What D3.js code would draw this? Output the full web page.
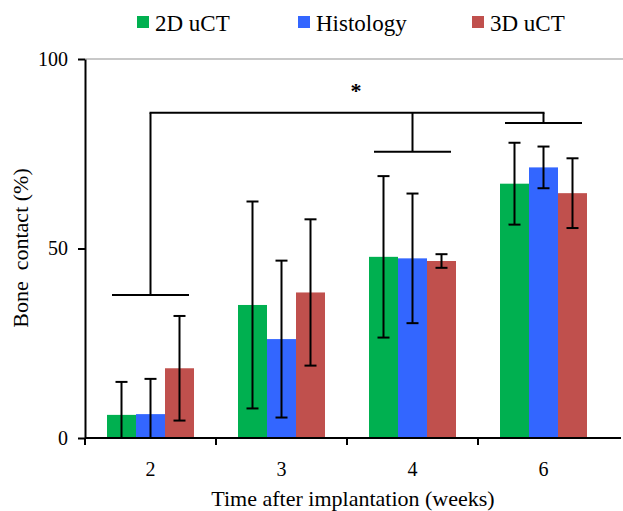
<!DOCTYPE html>
<html>
<head>
<meta charset="utf-8">
<script src="https://cdn.jsdelivr.net/npm/d3@7"></script>
<style>
  html, body { margin: 0; padding: 0; background: #fff; }
  svg { display: block; font-family: "Liberation Serif", "Times New Roman", serif; }
</style>
</head>
<body>
<svg id="chart" width="623" height="511"></svg>
<script>
// ---- data ----
const categories = ["2", "3", "4", "6"];
const seriesNames = ["2D uCT", "Histology", "3D uCT"];
const mean2D   = [6.1, 35.1, 47.8, 67.1];
const meanHist = [6.3, 26.1, 47.4, 71.4];
const mean3D   = [18.4, 38.4, 46.7, 64.6];
const sd2D     = [8.7, 27.3, 21.3, 10.8];
const sdHist   = [9.3, 20.7, 17.1, 5.5];
const sd3D     = [13.8, 19.3, 1.8, 9.2];
const yTicks   = [0, 50, 100];
// significance annotation
const bracketGroups = ["2", "4", "6"];
const bracketLevels = [37.7, 75.5, 83.1];
const bracketTop = 85.8;
const starLevel = 92;

const colors = ["#00b050", "#3366ff", "#c0504d"];
const means = [mean2D, meanHist, mean3D];
const sds = [sd2D, sdHist, sd3D];

const svg = d3.select("#chart");
const mLeft = 85, mRight = 609, mTop = 59, mBottom = 438;

const x = d3.scaleBand().domain(categories).range([mLeft, mRight]).padding(0);
const y = d3.scaleLinear().domain([0, 100]).range([mBottom, mTop]);
const groupW = 87;
const xs = d3.scaleBand().domain(seriesNames).range([-groupW / 2, groupW / 2]).padding(0);
const cx = c => x(c) + x.bandwidth() / 2;

// top gridline
svg.append("line")
  .attr("x1", mLeft).attr("x2", 623)
  .attr("y1", y(100)).attr("y2", y(100))
  .attr("stroke", "#c8c8c8").attr("stroke-width", 2);

// bars
seriesNames.forEach((s, si) => {
  svg.append("g").selectAll("rect")
    .data(categories)
    .join("rect")
    .attr("x", (c) => cx(c) + xs(s))
    .attr("width", xs.bandwidth())
    .attr("y", (c, i) => y(means[si][i]))
    .attr("height", (c, i) => y(0) - y(means[si][i]))
    .attr("fill", colors[si]);
});

// error bars
const capW = 12;
seriesNames.forEach((s, si) => {
  const g = svg.append("g").attr("stroke", "#000").attr("stroke-width", 2);
  categories.forEach((c, i) => {
    const xc = cx(c) + xs(s) + xs.bandwidth() / 2;
    const hi = means[si][i] + sds[si][i];
    const loRaw = means[si][i] - sds[si][i];
    const lo = Math.max(0, loRaw);
    g.append("line").attr("x1", xc).attr("x2", xc).attr("y1", y(hi)).attr("y2", y(lo));
    g.append("line").attr("x1", xc - capW / 2).attr("x2", xc + capW / 2).attr("y1", y(hi)).attr("y2", y(hi));
    if (loRaw >= 0) {
      g.append("line").attr("x1", xc - capW / 2).attr("x2", xc + capW / 2).attr("y1", y(lo)).attr("y2", y(lo));
    }
  });
});

// significance brackets
const bg = svg.append("g").attr("stroke", "#000").attr("stroke-width", 2).attr("fill", "none");
const halfBr = 38.5;
bracketGroups.forEach((c, i) => {
  const xc = cx(c);
  bg.append("line").attr("x1", xc - halfBr).attr("x2", xc + halfBr)
    .attr("y1", y(bracketLevels[i])).attr("y2", y(bracketLevels[i]));
  bg.append("line").attr("x1", xc).attr("x2", xc)
    .attr("y1", y(bracketLevels[i])).attr("y2", y(bracketTop));
});
bg.append("line")
  .attr("x1", cx(bracketGroups[0]) - 1).attr("x2", cx(bracketGroups[bracketGroups.length - 1]) + 1)
  .attr("y1", y(bracketTop)).attr("y2", y(bracketTop));
svg.append("text")
  .attr("x", 356).attr("y", y(starLevel) + 9)
  .attr("text-anchor", "middle")
  .attr("font-size", 22).attr("font-weight", "bold")
  .text("*");

// y axis
const yAxis = svg.append("g").attr("transform", `translate(${mLeft},0)`)
  .call(d3.axisLeft(y).tickValues(yTicks).tickSize(7).tickSizeOuter(0).tickPadding(10));
yAxis.select(".domain").attr("stroke", "#000").attr("stroke-width", 2);
yAxis.selectAll(".tick line").attr("stroke", "#000").attr("stroke-width", 2);
yAxis.selectAll(".tick text").attr("font-size", 20).attr("fill", "#000")
  .attr("font-family", "Liberation Serif");

// x axis
svg.append("line")
  .attr("x1", mLeft).attr("x2", 621)
  .attr("y1", y(0)).attr("y2", y(0))
  .attr("stroke", "#000").attr("stroke-width", 2);
svg.append("g").selectAll("line")
  .data(categories)
  .join("line")
  .attr("x1", c => x(c)).attr("x2", c => x(c))
  .attr("y1", y(0)).attr("y2", y(0) + 7)
  .attr("stroke", "#000").attr("stroke-width", 2);
svg.append("g").selectAll("text")
  .data(categories)
  .join("text")
  .attr("x", c => cx(c))
  .attr("y", y(0) + 38)
  .attr("text-anchor", "middle")
  .attr("font-size", 20)
  .text(c => c);

// axis titles
svg.append("text")
  .attr("x", 353).attr("y", 506)
  .attr("text-anchor", "middle")
  .attr("font-size", 22)
  .text("Time after implantation (weeks)");
svg.append("text")
  .attr("transform", "translate(28,248) rotate(-90)")
  .attr("text-anchor", "middle")
  .attr("font-size", 22)
  .attr("xml:space", "preserve")
  .style("white-space", "pre")
  .text("Bone  contact (%)");

// legend
const legendX = [137, 298, 472];
const lg = svg.append("g");
seriesNames.forEach((s, i) => {
  lg.append("rect").attr("x", legendX[i]).attr("y", 16).attr("width", 12).attr("height", 12).attr("fill", colors[i]);
  lg.append("text").attr("x", legendX[i] + 18).attr("y", 31).attr("font-size", 23).text(s);
});
</script>
</body>
</html>
